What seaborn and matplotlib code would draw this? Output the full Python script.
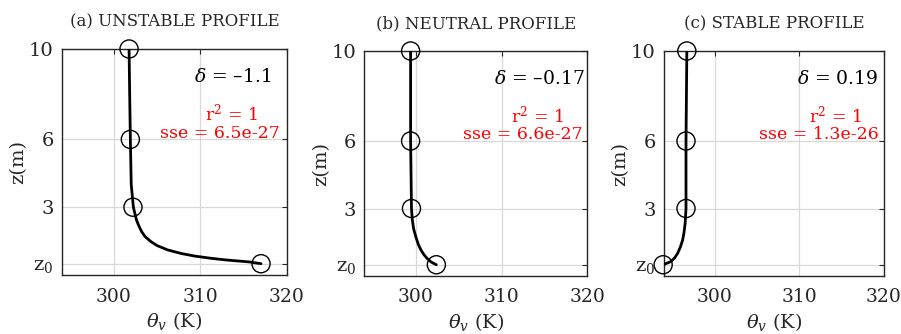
import numpy as np
import pandas as pd
import matplotlib
matplotlib.use("Agg")
import matplotlib.pyplot as plt
import seaborn as sns

# ---------------- data ----------------
titles = ["(a) UNSTABLE PROFILE", "(b) NEUTRAL PROFILE", "(c) STABLE PROFILE"]
delta_labels = ["\u20131.1", "\u20130.17", "0.19"]
sse_labels = ["6.5e-27", "6.6e-27", "1.3e-26"]
r2_labels = ["1", "1", "1"]

# measurement heights (m) and theta_v (K) at the circles
z_obs = [10, 6, 3, 0.5]
theta_obs_a = [301.75, 301.9, 302.2, 317.0]
theta_obs_b = [299.4, 299.4, 299.5, 302.4]
theta_obs_c = [296.7, 296.6, 296.6, 293.9]

# fitted profile
z_fit_a = [10, 8, 6, 4, 3, 2.44, 2.2, 1.92, 1.7, 1.47, 1.3, 1.11, 0.95, 0.84, 0.74, 0.66, 0.58, 0.5]
theta_fit_a = [301.75, 301.82, 301.9, 302.0, 302.25, 302.6, 302.85, 303.2, 303.6, 304.3,
               305.0, 306.2, 307.8, 309.3, 311.2, 313.1, 315.6, 317.0]

z_fit_b = [10, 6, 3, 2.49, 2.1, 1.75, 1.4, 1.16, 0.95, 0.79, 0.62, 0.5]
theta_fit_b = [299.4, 299.4, 299.5, 299.6, 299.75, 300.0, 300.3, 300.6, 300.95, 301.3, 301.8, 302.4]

z_fit_c = [10, 6, 3, 2.34, 1.9, 1.6, 1.3, 1.0, 0.8, 0.64, 0.5]
theta_fit_c = [296.7, 296.6, 296.6, 296.5, 296.35, 296.2, 295.95, 295.6, 295.25, 294.8, 293.9]

x_ticks = [300, 310, 320]
y_ticks = [0.5, 3, 6, 10]
y_ticklabels = [r"z$_0$", "3", "6", "10"]

obs = [theta_obs_a, theta_obs_b, theta_obs_c]
fits = [(theta_fit_a, z_fit_a), (theta_fit_b, z_fit_b), (theta_fit_c, z_fit_c)]

# ---------------- style ----------------
sns.set_theme(style="white")
plt.rcParams["font.family"] = ["DejaVu Serif", "DejaVu Sans"]
plt.rcParams["mathtext.fontset"] = "dejavuserif"

fig = plt.figure(figsize=(9.01, 3.34), dpi=100)
W, H = 901.0, 334.0
boxes = [(62, 287, 49, 275), (364.3, 587.3, 51, 276), (664, 884, 51, 276)]

delta_x = [0.933, 0.99, 0.973]
sse_x = [0.969, 0.98, 0.977]
r2_x = [0.755, 0.778, 0.78]

for i in range(3):
    l, r, t, b = boxes[i]
    ax = fig.add_axes([l / W, 1 - b / H, (r - l) / W, (b - t) / H])
    th_fit, z_fit = fits[i]
    df_fit = pd.DataFrame({"theta": th_fit, "z": z_fit})
    df_obs = pd.DataFrame({"theta": obs[i], "z": z_obs})
    sns.lineplot(data=df_fit, x="theta", y="z", sort=False, estimator=None,
                 color="black", linewidth=2.0, ax=ax, zorder=3)
    sns.scatterplot(data=df_obs, x="theta", y="z", s=170, marker="o",
                    facecolor="none", edgecolor="black", linewidth=1.0,
                    ax=ax, zorder=4, clip_on=False)
    ax.set_xlim(294, 320)
    ax.set_ylim(0, 10)
    ax.set_xticks(x_ticks)
    ax.set_yticks(y_ticks)
    ax.set_yticklabels(y_ticklabels)
    ax.grid(True, color="#d8d8d8", linewidth=0.9)
    ax.set_axisbelow(True)
    for sp in ax.spines.values():
        sp.set_color("#262626")
        sp.set_linewidth(1.0)
        sp.set_visible(True)
    ax.tick_params(direction="in", length=3.5, width=0.8, color="#262626",
                   top=True, right=True, labelsize=14, labelcolor="#262626")
    ax.tick_params(axis="x", pad=9, labelsize=13.5)
    ax.tick_params(axis="y", pad=6)
    ax.set_xlabel(r"$\theta_v$ (K)", fontsize=14, labelpad=3, color="#262626")
    ax.set_ylabel("z(m)", fontsize=14, labelpad=1, color="#262626")
    ax.set_title(titles[i], fontsize=12, pad=16, color="#262626")

    ax.text(delta_x[i], 0.855, r"$\delta$ = " + delta_labels[i], transform=ax.transAxes,
            ha="right", va="baseline", fontsize=13.5, color="black")
    ax.text(r2_x[i], 0.683, r"r$^2$ = " + r2_labels[i], transform=ax.transAxes,
            ha="center", va="baseline", fontsize=12.5, color="red")
    ax.text(sse_x[i], 0.607, "sse = " + sse_labels[i], transform=ax.transAxes,
            ha="right", va="baseline", fontsize=12.5, color="red")

fig.savefig("out.png", dpi=100)
